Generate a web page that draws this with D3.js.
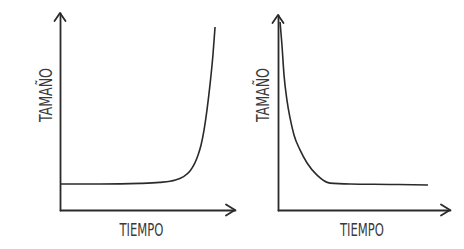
<!DOCTYPE html>
<html>
<head>
<meta charset="utf-8">
<script src="https://cdn.jsdelivr.net/npm/d3@7"></script>
<style>
  body { margin: 0; background: #fff; }
  text { font-family: "Liberation Sans Narrow", "DejaVu Sans Condensed", "Open Sans", sans-serif; fill: #3a3a3a; }
</style>
</head>
<body>
<div id="chart"></div>
<script>
// Axis labels
const xLabel = "TIEMPO";
const yLabel = "TAMAÑO";

// Growth curve (left): time vs size, 0-100 units
const growthTime = [0, 23, 46, 57, 66, 70.3, 74.3, 77.1, 78.9, 80.6, 82.3, 84, 85.7, 87.4, 88.6];
const growthSize = [13.2, 13.2, 13.5, 14, 15.2, 16.8, 19.8, 23.9, 27.9, 33, 40.6, 50.8, 63.5, 78.7, 92.9];

// Decay curve (right)
const decayTime = [1.2, 2.3, 3.5, 5.2, 7, 9.3, 12.8, 16.9, 22.7, 30.2, 41.9, 65.1, 87.2];
const decaySize = [96.4, 84.6, 69.2, 56.4, 47.2, 38.5, 30.8, 24.1, 17.9, 13.8, 13.3, 13.1, 12.8];

const width = 464, height = 249;
const ink = "#2a2a2a";

const svg = d3.select("#chart").append("svg")
  .attr("width", width)
  .attr("height", height);

const panels = [
  { time: growthTime, size: growthSize, x0: 60, x1: 235, y0: 210, y1: 13, yLab: 52, xLab: 141.5 },
  { time: decayTime, size: decaySize, x0: 278, x1: 450, y0: 210, y1: 15, yLab: 269, xLab: 362 }
];

panels.forEach(p => {
  const x = d3.scaleLinear().domain([0, 100]).range([p.x0, p.x1]);
  const y = d3.scaleLinear().domain([0, 100]).range([p.y0, p.y1]);
  const g = svg.append("g");

  // axes without ticks
  const xAxis = g.append("g")
    .attr("transform", `translate(0,${p.y0})`)
    .call(d3.axisBottom(x).tickValues([]).tickSizeOuter(0));
  const yAxis = g.append("g")
    .attr("transform", `translate(${p.x0},0)`)
    .call(d3.axisLeft(y).tickValues([]).tickSizeOuter(0));
  [xAxis, yAxis].forEach(a => a.select(".domain")
    .attr("stroke", ink).attr("stroke-width", 1.8).attr("stroke-linecap", "round"));

  // arrowheads
  g.append("path")
    .attr("d", `M${x(100) - 9},${p.y0 - 5.5}L${x(100)},${p.y0}L${x(100) - 9},${p.y0 + 5.5}`)
    .attr("fill", "none").attr("stroke", ink).attr("stroke-width", 1.8)
    .attr("stroke-linecap", "round").attr("stroke-linejoin", "round");
  g.append("path")
    .attr("d", `M${p.x0 - 5.5},${y(100) + 8}L${p.x0},${y(100)}L${p.x0 + 5.5},${y(100) + 8}`)
    .attr("fill", "none").attr("stroke", ink).attr("stroke-width", 1.8)
    .attr("stroke-linecap", "round").attr("stroke-linejoin", "round");

  // curve
  const line = d3.line()
    .x((d, i) => x(p.time[i]))
    .y(d => y(d))
    .curve(d3.curveMonotoneX);
  g.append("path")
    .datum(p.size)
    .attr("d", line)
    .attr("fill", "none")
    .attr("stroke", ink)
    .attr("stroke-width", 1.6);

  // labels
  g.append("text")
    .attr("x", p.xLab)
    .attr("y", 236)
    .attr("text-anchor", "middle")
    .attr("textLength", 44)
    .attr("lengthAdjust", "spacingAndGlyphs")
    .style("font-size", "18.5px")
    .text(xLabel);
  g.append("text")
    .attr("transform", `translate(${p.yLab},95) rotate(-90)`)
    .attr("text-anchor", "middle")
    .attr("textLength", 54)
    .attr("lengthAdjust", "spacingAndGlyphs")
    .style("font-size", "17px")
    .text(yLabel);
});
</script>
</body>
</html>
